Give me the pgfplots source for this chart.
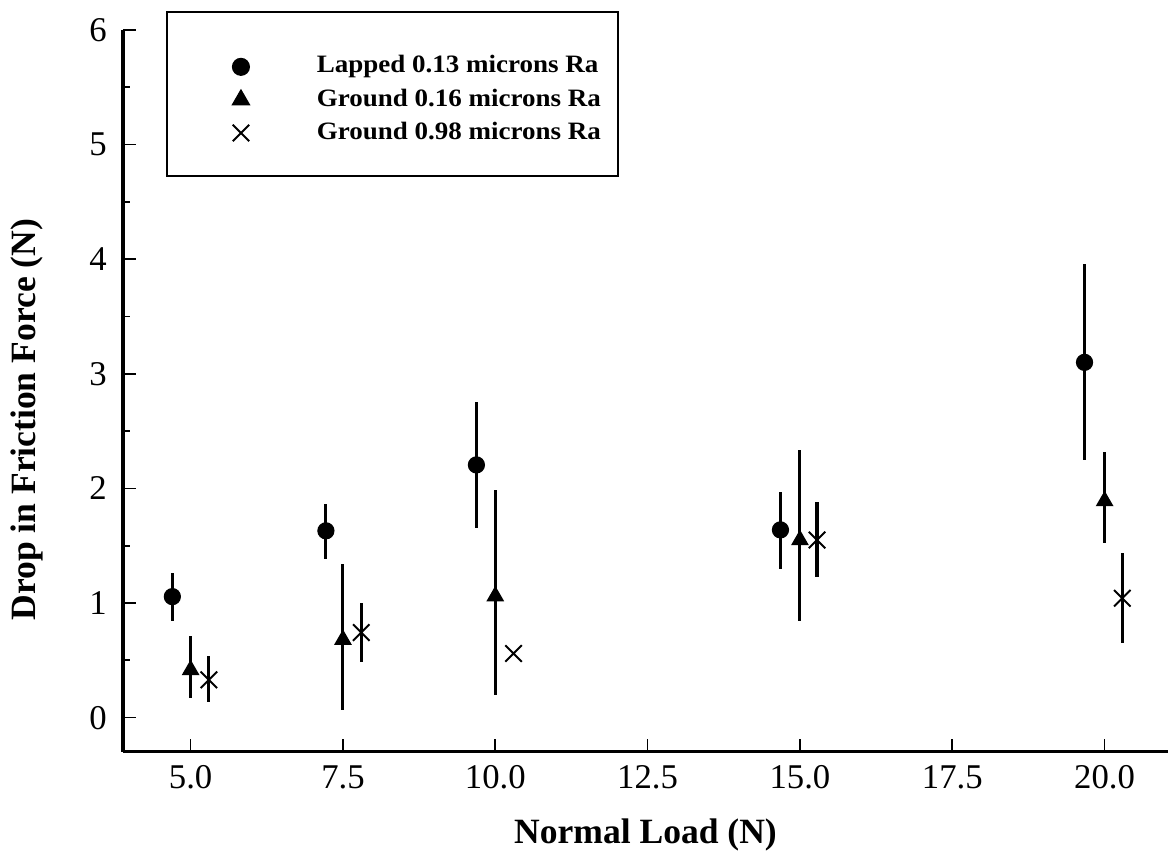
\documentclass[border=0pt]{standalone}
\usepackage{fontspec}
\setmainfont{Liberation Serif}
\newfontfamily\legfont[FakeStretch=1.08]{Liberation Serif}
\usepackage{pgfplots}
\usepackage{pgfplotstable}
\pgfplotsset{compat=1.18}

% x  y  error+  error-
\pgfplotstableread{
x y ep em
4.70 1.056 0.204 0.210
7.22 1.630 0.235 0.245
9.69 2.205 0.552 0.552
14.68 1.638 0.334 0.343
19.67 3.100 0.860 0.850
}\lapped
\pgfplotstableread{
x y ep em
5.00 0.416 0.300 0.244
7.50 0.680 0.661 0.613
10.00 1.060 0.927 0.862
15.00 1.550 0.786 0.706
20.00 1.890 0.431 0.363
}\groundA
\pgfplotstableread{
x y ep em
5.30 0.330 0.208 0.190
7.80 0.742 0.261 0.253
10.30 0.560 0.000 0.000
15.28 1.550 0.335 0.320
20.29 1.042 0.393 0.393
}\groundB

\begin{document}
\begin{tikzpicture}
\begin{axis}[
  scale only axis,
  width=376.2pt, height=259.8pt,
  xmin=3.89, xmax=21.04, ymin=-0.297, ymax=6,
  axis lines=left,
  axis line style={-, line width=1.1pt},
  tick align=inside,
  major tick length=4.6pt, minor tick length=2.4pt,
  tick style={line width=0.6pt, black},
  xtick={5,7.5,10,12.5,15,17.5,20},
  ytick={0,1,2,3,4,5,6},
  minor y tick num=1,
  /pgf/number format/assume math mode=true,
  tick label style={font=\fontsize{12.5}{14}\selectfont},
  xticklabel style={/pgf/number format/fixed, /pgf/number format/fixed zerofill, /pgf/number format/precision=1, yshift=-1.5pt},
  yticklabel style={xshift=-2.3pt},
  xlabel={Normal Load (N)},
  ylabel={Drop in Friction Force (N)},
  label style={font=\fontsize{12.8}{15}\selectfont\bfseries},
  xlabel style={at={(axis description cs:0.5,-0.115)}, anchor=center},
  ylabel style={at={(axis description cs:-0.0923,0.46)}, anchor=center},
  legend image code/.code={\path (0pt,8.4pt) (53.3pt,-4.1pt); \draw[#1] plot coordinates {(26.3pt,0pt)};},
  legend cell align=left,
  legend style={at={(axis description cs:0.0411,1.0263)}, anchor=north west,
    draw=black, line width=0.7pt, inner xsep=0pt, inner ysep=11pt, row sep=-1.3pt,
    nodes={inner sep=0pt, text height=6.3pt, text depth=1.9pt, font=\legfont\fontsize{9}{11}\selectfont\bfseries}},
]
\addplot+[only marks, black, mark=*, mark size=2.9pt, mark options={fill=black},
  error bars/.cd, y dir=both, y explicit, error mark=none, error bar style={line width=1.1pt}]
  table[x=x, y=y, y error plus=ep, y error minus=em] {\lapped};
\addlegendentry{\makebox[108.3pt][l]{Lapped 0.13 microns Ra}}
\addplot+[only marks, black, mark=triangle*, mark size=3.3pt, mark options={fill=black},
  error bars/.cd, y dir=both, y explicit, error mark=none, error bar style={line width=1.1pt}]
  table[x=x, y=y, y error plus=ep, y error minus=em] {\groundA};
\addlegendentry{\makebox[108.3pt][l]{Ground 0.16 microns Ra}}
\addplot+[only marks, black, mark=x, mark size=4.2pt, mark options={line width=0.7pt},
  error bars/.cd, y dir=both, y explicit, error mark=none, error bar style={line width=1.1pt}]
  table[x=x, y=y, y error plus=ep, y error minus=em] {\groundB};
\addlegendentry{\makebox[108.3pt][l]{Ground 0.98 microns Ra}}
\end{axis}
\pgfresetboundingbox
\path[use as bounding box] ([shift={(-44.28pt,-38.27pt)}]current axis.south west) rectangle ([shift={(1.08pt,10.8pt)}]current axis.north east);
\end{tikzpicture}
\end{document}
